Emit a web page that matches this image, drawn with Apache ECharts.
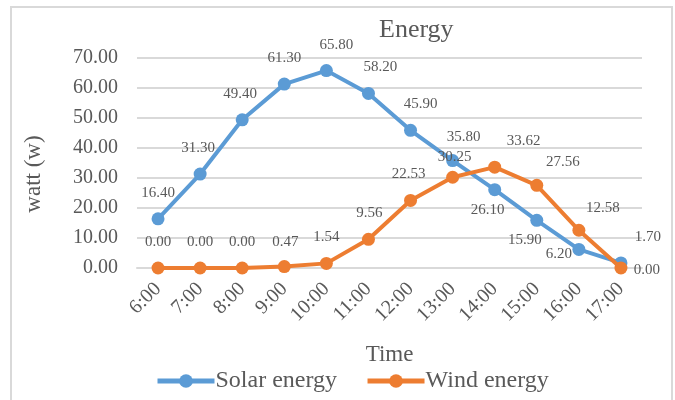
<!DOCTYPE html>
<html>
<head>
<meta charset="utf-8">
<script src="https://cdn.jsdelivr.net/npm/echarts@6/dist/echarts.min.js"></script>
<style>
  html, body { margin: 0; padding: 0; background: #fff; }
  #main { width: 675px; height: 400px; }
</style>
</head>
<body>
<div id="main"></div>
<script>
var hours = ['6:00', '7:00', '8:00', '9:00', '10:00', '11:00', '12:00', '13:00', '14:00', '15:00', '16:00', '17:00'];
var solar = [16.40, 31.30, 49.40, 61.30, 65.80, 58.20, 45.90, 35.80, 26.10, 15.90, 6.20, 1.70];
var wind = [0.00, 0.00, 0.00, 0.47, 1.54, 9.56, 22.53, 30.25, 33.62, 27.56, 12.58, 0.00];
var yTicks = [0, 10, 20, 30, 40, 50, 60, 70];

// label offsets (like Excel's manual label placement)
var solarOff = [[0, 0], [-2, 0], [-2, 0], [0, 0], [10, 0], [12, 0], [10, 0], [11, 2],
                [-7, 46], [-12, 46], [-20, 31], [27, 0]];
var windOff = [[0, 0], [0, 0], [0, 0], [1, 1], [0, 0], [1, 0], [-2, 0], [2, 6],
               [29, 0], [26, 3], [24, 4], [26, 28]];

var font = '"Liberation Serif", "Times New Roman", serif';
var grey = '#595959';

function build(vals, offs) {
  return vals.map(function (v, i) {
    return { value: v, label: { offset: offs[i] } };
  });
}

var chart = echarts.init(document.getElementById('main'));
chart.setOption({
  animation: false,
  textStyle: { fontFamily: font, color: grey },
  graphic: [{
    type: 'rect',
    shape: { x: 11, y: 7, width: 661, height: 400 },
    style: { fill: 'none', stroke: '#d9d9d9', lineWidth: 2 },
    silent: true
  }],
  title: {
    text: 'Energy',
    left: 379,
    top: 17,
    padding: 0,
    textStyle: { fontFamily: font, fontSize: 26, fontWeight: 'normal', color: grey }
  },
  legend: {
    bottom: 2,
    left: 150,
    itemWidth: 57,
    itemHeight: 17,
    itemGap: 28,
    lineStyle: { width: 5 },
    textStyle: { fontFamily: font, fontSize: 24, color: grey, padding: [0, 0, 0, -4] },
    data: ['Solar energy', 'Wind energy']
  },
  grid: { left: 137, right: 33, top: 58, bottom: 132 },
  xAxis: {
    type: 'category',
    data: hours,
    name: 'Time',
    nameLocation: 'middle',
    nameGap: 75,
    nameTextStyle: { fontFamily: font, fontSize: 23, color: grey },
    axisLine: { show: true, lineStyle: { color: '#d9d9d9', width: 2 } },
    axisTick: { show: false },
    axisLabel: { rotate: 45, fontFamily: font, fontSize: 20, color: grey, margin: 18 }
  },
  yAxis: {
    type: 'value',
    min: yTicks[0],
    max: yTicks[yTicks.length - 1],
    interval: 10,
    name: 'watt (w)',
    nameLocation: 'middle',
    nameGap: 92,
    nameTextStyle: { fontFamily: font, fontSize: 23, color: grey, padding: [0, 22, 0, 0] },
    axisLine: { show: false },
    axisTick: { show: false },
    axisLabel: {
      fontFamily: font, fontSize: 20, color: grey, margin: 19,
      formatter: function (v) { return v.toFixed(2); }
    },
    splitLine: { lineStyle: { color: '#d9d9d9', width: 2 } }
  },
  series: [
    {
      name: 'Solar energy',
      type: 'line',
      data: build(solar, solarOff),
      symbol: 'circle',
      symbolSize: 13,
      lineStyle: { width: 4, color: '#5b9bd5' },
      itemStyle: { color: '#5b9bd5' },
      label: {
        show: true,
        position: 'top',
        distance: 12,
        fontFamily: font,
        fontSize: 15,
        color: grey,
        formatter: function (p) { return p.value.toFixed(2); }
      },
      z: 2
    },
    {
      name: 'Wind energy',
      type: 'line',
      data: build(wind, windOff),
      symbol: 'circle',
      symbolSize: 13,
      lineStyle: { width: 4, color: '#ed7d31' },
      itemStyle: { color: '#ed7d31' },
      label: {
        show: true,
        position: 'top',
        distance: 12,
        fontFamily: font,
        fontSize: 15,
        color: grey,
        formatter: function (p) { return p.value.toFixed(2); }
      },
      z: 3
    }
  ]
});
</script>
</body>
</html>
